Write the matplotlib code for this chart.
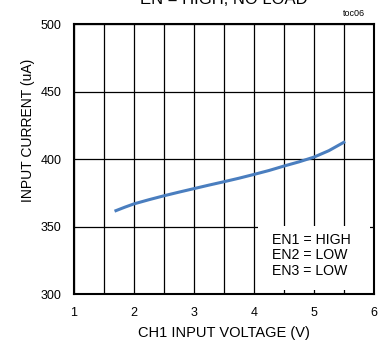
import numpy as np
import matplotlib
matplotlib.use('Agg')
import matplotlib.pyplot as plt
from matplotlib.patches import Rectangle

# Input current vs CH1 input voltage
v_in = [1.7, 1.85, 2.0, 2.25, 2.5, 2.75, 3.0, 3.25, 3.5, 3.75, 4.0,
        4.25, 4.5, 4.75, 5.0, 5.25, 5.5]
i_in = [361.8, 364.4, 366.8, 369.9, 372.8, 375.5, 378.1, 380.7, 383.2,
        385.8, 388.6, 391.5, 394.8, 397.9, 401.4, 406.2, 412.4]

xticks = [1, 2, 3, 4, 5, 6]
yticks = [300, 350, 400, 450, 500]
conditions = ['EN1 = HIGH', 'EN2 = LOW', 'EN3 = LOW']

plt.rc('font', family='Liberation Sans')

fig = plt.figure(figsize=(3.8, 3.46), dpi=100)
ax = fig.add_axes([0.1947, 0.150, 0.789, 0.7806])

ax.plot(v_in, i_in, color='#4a7ebf', lw=2.2, zorder=3)

ax.set_xlim(1, 6)
ax.set_ylim(300, 500)
ax.set_xticks(xticks)
ax.set_yticks(yticks)
ax.set_xticks(np.arange(1, 6.01, 0.5), minor=True)
ax.grid(True, which='major', color='black', lw=0.9, zorder=1)
ax.grid(True, axis='x', which='minor', color='black', lw=0.9, zorder=1)
ax.tick_params(which='both', length=0, labelsize=9, pad=9)
for s in ax.spines.values():
    s.set_linewidth(1.5)
    s.set_zorder(5)

ax.set_xlabel('CH1 INPUT VOLTAGE (V)', fontsize=10.5, labelpad=5)
ax.set_ylabel('INPUT CURRENT (uA)', fontsize=10)
ax.yaxis.set_label_coords(-0.13, 0.607)

# conditions box
ax.add_patch(Rectangle((4.07, 303), 1.86, 47.7, facecolor='white',
                       edgecolor='none', zorder=2.5))
ax.text(4.3, 328.6, '\n'.join(conditions), ha='left', va='center',
        fontsize=10.2, linespacing=1.12, zorder=4)

fig.text(0.589, 1.0, 'EN = HIGH, NO LOAD', ha='center', va='center', fontsize=12)
fig.text(0.932, 0.96, 'toc06', ha='center', va='center', fontsize=6.5)

fig.savefig('out.png', dpi=100)
